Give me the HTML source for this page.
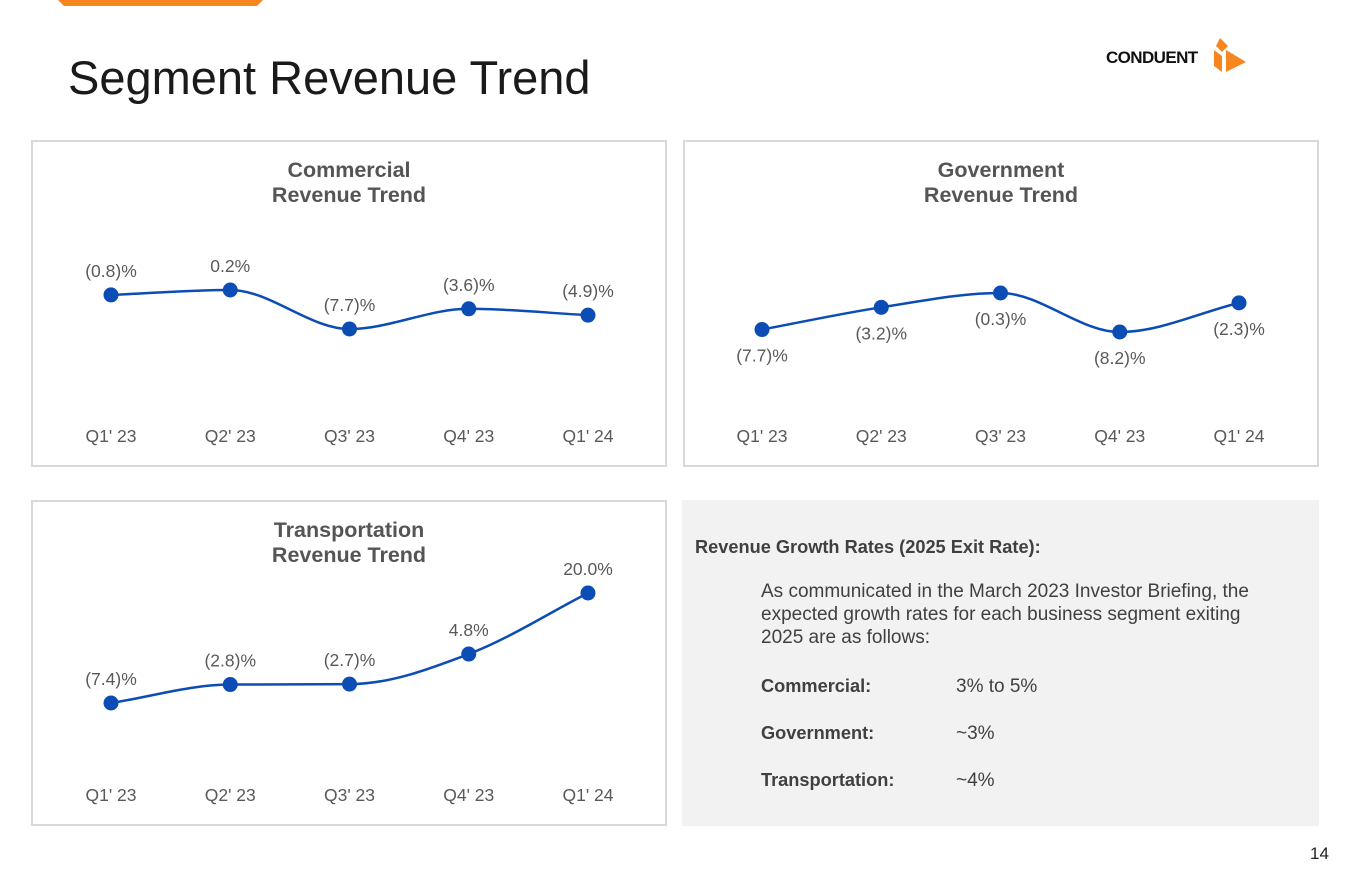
<!DOCTYPE html>
<html><head><meta charset="utf-8"><style>
body{margin:0;width:1365px;height:878px;background:#fff;font-family:"Liberation Sans",Arial,sans-serif;position:relative;overflow:hidden}
.abs{position:absolute}
.panel{position:absolute;border:2px solid #d9d9d9;box-sizing:border-box;background:#fff}
.t{position:absolute;font-size:21.5px;font-weight:bold;color:#555;text-align:center;width:100%;line-height:25px}
</style></head><body>
<svg class="abs" style="left:0;top:0" width="300" height="10"><polygon points="58,0 263,0 257,6 64,6" fill="#f7861f"/></svg>
<div class="abs" style="left:68px;top:50px;font-size:47px;color:#1a1a1a">Segment Revenue Trend</div>
<div class="abs" style="left:1106px;top:46px;width:150px;height:30px">
<span style="font-weight:bold;font-size:17px;color:#111;position:absolute;left:0;top:2px;letter-spacing:-0.6px">CONDUENT</span>
<svg style="position:absolute;left:104px;top:-10px" width="40" height="40"><polygon points="10,2 18,10 12,16 6,10" fill="#f7861f"/><polygon points="4,14 12,20 12,36 4,30" fill="#f7861f"/><polygon points="16,14 36,26 16,36" fill="#f7861f"/></svg></div>

<div class="panel" style="left:31px;top:140px;width:636px;height:327px">
<div class="t" style="top:16px">Commercial<br>Revenue Trend</div></div>
<div class="panel" style="left:683px;top:140px;width:636px;height:327px">
<div class="t" style="top:16px">Government<br>Revenue Trend</div></div>
<div class="panel" style="left:31px;top:500px;width:636px;height:326px">
<div class="t" style="top:16px">Transportation<br>Revenue Trend</div></div>

<div class="abs" style="left:682px;top:500px;width:637px;height:326px;background:#f2f2f2;color:#404040;font-size:19px">
<div class="abs" style="left:13px;top:37px;font-weight:bold;font-size:18.2px">Revenue Growth Rates (2025 Exit Rate):</div>
<div class="abs" style="left:79px;top:80px;width:520px;line-height:23px">As communicated in the March 2023 Investor Briefing, the expected growth rates for each business segment exiting 2025 are as follows:</div>
<div class="abs" style="left:79px;top:176px;font-weight:bold;font-size:18.2px">Commercial:</div><div class="abs" style="left:274px;top:176px">3% to 5%</div>
<div class="abs" style="left:79px;top:223px;font-weight:bold;font-size:18.2px">Government:</div><div class="abs" style="left:274px;top:223px">~3%</div>
<div class="abs" style="left:79px;top:270px;font-weight:bold;font-size:18.2px">Transportation:</div><div class="abs" style="left:274px;top:270px">~4%</div>
</div>
<div class="abs" style="left:1310px;top:844px;font-size:17px;color:#222">14</div>

<svg id="charts" class="abs" style="left:0;top:0" width="1365" height="878"></svg>
<script>
const categories=["Q1' 23","Q2' 23","Q3' 23","Q4' 23","Q1' 24"];
const commercialValues=[-0.8,0.2,-7.7,-3.6,-4.9];
const commercialLabels=["(0.8)%","0.2%","(7.7)%","(3.6)%","(4.9)%"];
const governmentValues=[-7.7,-3.2,-0.3,-8.2,-2.3];
const governmentLabels=["(7.7)%","(3.2)%","(0.3)%","(8.2)%","(2.3)%"];
const transportationValues=[-7.4,-2.8,-2.7,4.8,20.0];
const transportationLabels=["(7.4)%","(2.8)%","(2.7)%","4.8%","20.0%"];

const NS="http://www.w3.org/2000/svg";
const svg=document.getElementById('charts');
function mk(tag,attrs){const e=document.createElementNS(NS,tag);for(const k in attrs)e.setAttribute(k,attrs[k]);svg.appendChild(e);return e;}
function monotone(pts){
  const n=pts.length,d=[],m=[];
  for(let i=0;i<n-1;i++)d.push((pts[i+1][1]-pts[i][1])/(pts[i+1][0]-pts[i][0]));
  m[0]=d[0];m[n-1]=d[n-2];
  for(let i=1;i<n-1;i++)m[i]=(d[i-1]*d[i]<=0||Math.abs(d[i])<0.02||Math.abs(d[i-1])<0.02)?0:(d[i-1]+d[i])/2;
  let s="M"+pts[0][0]+","+pts[0][1];
  for(let i=0;i<n-1;i++){const h=(pts[i+1][0]-pts[i][0])/3;
    s+=" C"+(pts[i][0]+h)+","+(pts[i][1]+m[i]*h)+" "+(pts[i+1][0]-h)+","+(pts[i+1][1]-m[i+1]*h)+" "+pts[i+1][0]+","+pts[i+1][1];}
  return s;
}
function chart(key,vals,labels,x0,yTop,yBot,labelBelow,axisY){
  const lo=Math.min(...vals),hi=Math.max(...vals);
  const xs=i=>x0+i*119.25;
  const ys=v=>yBot-(v-lo)/(hi-lo)*(yBot-yTop);
  const pts=vals.map((v,i)=>[xs(i),ys(v)]);
  const line=mk('path',{d:monotone(pts),fill:'none',stroke:'#0b4db5','stroke-width':2.5});
  
  
  vals.forEach((v,i)=>{
    const c=mk('circle',{cx:xs(i),cy:ys(v),r:7.5,fill:'#0b4db5'});
    
    
    const t=mk('text',{x:xs(i),y:labelBelow?ys(v)+32:ys(v)-18,'text-anchor':'middle','font-size':17.5,fill:'#595959','font-family':'Liberation Sans, sans-serif'});
    t.textContent=labels[i];
    
    
    const a=mk('text',{x:xs(i),y:axisY,'text-anchor':'middle','font-size':17.5,fill:'#595959','font-family':'Liberation Sans, sans-serif'});
    a.textContent=categories[i];
    
    
  });
}
chart('commercial',commercialValues,commercialLabels,111,290,329,false,442);
chart('government',governmentValues,governmentLabels,762,293,332,true,442);
chart('transportation',transportationValues,transportationLabels,111,593,703,false,801);
</script>
</body></html>
